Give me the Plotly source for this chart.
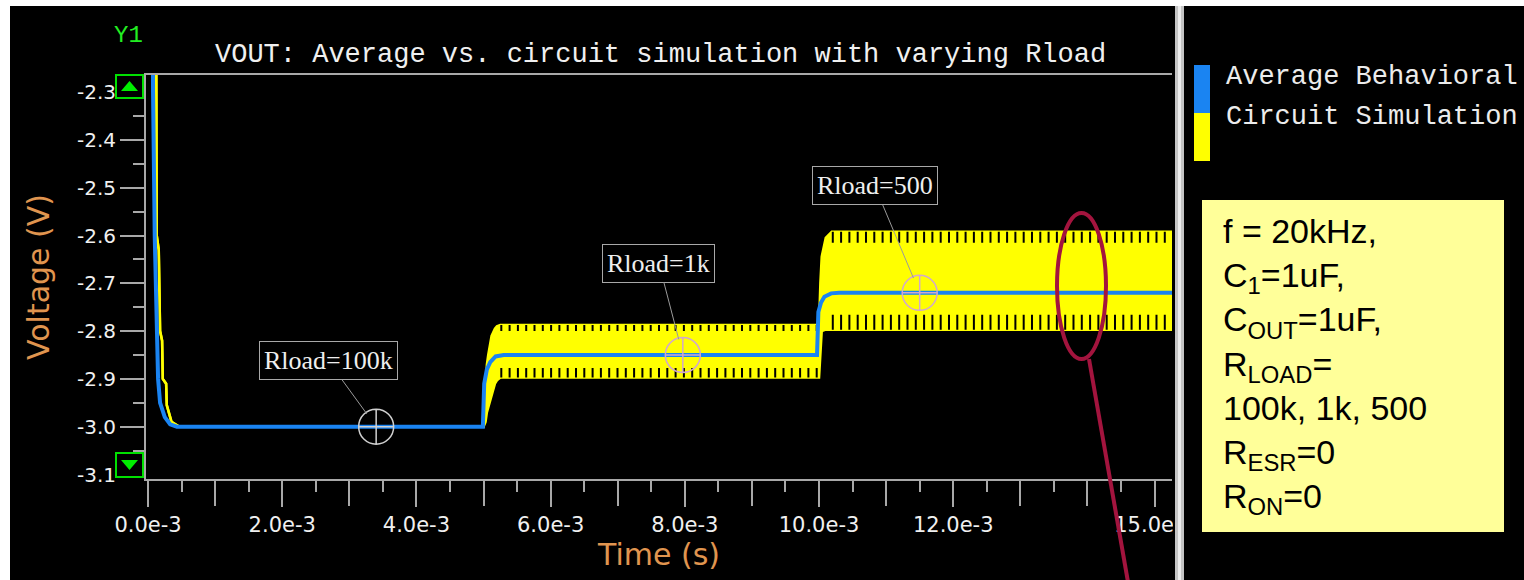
import plotly.graph_objects as go

# ---------------- data (time in ms, voltage in V) ----------------
avg_t_ms = [0.07, 0.075, 0.10, 0.13, 0.15, 0.18, 0.25, 0.33, 0.43,
            4.99, 5.00, 5.01, 5.05, 5.10, 5.18, 5.30,
            9.97, 9.98, 9.99, 10.03, 10.08, 10.18, 10.30, 15.26]
avg_v = [-2.10, -2.30, -2.60, -2.80, -2.90, -2.95, -2.98, -2.995, -3.00,
         -3.00, -2.95, -2.91, -2.88, -2.865, -2.853, -2.85,
         -2.85, -2.80, -2.76, -2.74, -2.728, -2.721, -2.72, -2.72]

sim_t_ms = [0.12, 0.13, 0.16, 0.18, 0.21, 0.22, 0.27, 0.28, 0.35, 0.47,
            5.00, 5.03, 5.05, 5.07, 5.12, 5.17, 5.20, 5.25,
            10.00, 10.02, 10.04, 10.10, 10.19, 15.26]
sim_hi = [-2.10, -2.60, -2.63, -2.80, -2.82, -2.90, -2.91, -2.955, -2.99, -3.00,
          -3.00, -2.90, -2.87, -2.85, -2.81, -2.795, -2.79, -2.787,
          -2.787, -2.70, -2.644, -2.605, -2.592, -2.592]
sim_lo = [-2.10, -2.60, -2.63, -2.80, -2.82, -2.90, -2.91, -2.955, -2.99, -3.00,
          -3.00, -2.99, -2.97, -2.96, -2.93, -2.91, -2.903, -2.897,
          -2.897, -2.85, -2.80, -2.797, -2.797, -2.797]

# ripple texture strips (per load step)
ripple_start_ms = [5.25, 10.19]
ripple_end_ms = [10.00, 15.26]
ripple_peak = [-2.787, -2.592]
ripple_body_top = [-2.800, -2.615]
ripple_body_bottom = [-2.877, -2.766]
ripple_trough = [-2.897, -2.797]

marker_t_ms = [3.40, 7.97, 11.50]
marker_v = [-3.00, -2.85, -2.72]
marker_labels = ["Rload=100k", "Rload=1k", "Rload=500"]

x_label_ms = [0, 2, 4, 6, 8, 10, 12, 15]
x_long_tick_ms = [1, 3, 5, 7, 9, 11, 13, 14]
x_minor_ms = [0.5, 1.5, 2.5, 3.5, 4.5, 5.5, 6.5, 7.5, 8.5, 9.5, 10.5, 11.5, 12.5, 13.5, 14.5]
y_ticks = [-3.1, -3.0, -2.9, -2.8, -2.7, -2.6, -2.5, -2.4, -2.3]
y_minor = [-3.05, -2.95, -2.85, -2.75, -2.65, -2.55, -2.45, -2.35]

series_names = ["Average Behavioral", "Circuit Simulation"]
info_lines = ["f = 20kHz,", "C<sub>1</sub>=1uF,", "C<sub>OUT</sub>=1uF,", "R<sub>LOAD</sub>=",
              "100k, 1k, 500", "R<sub>ESR</sub>=0", "R<sub>ON</sub>=0"]

# ---------------- styling / layout ----------------
FW, FH = 1524, 580
L, R_EDGE, T, B = 146, 1172, 75, 479
W, H = R_EDGE - L, B - T
X_RANGE = [-0.03e-3, 15.26e-3]
Y_RANGE = [-3.1094, -2.2642]
PX_PER_V = H / (Y_RANGE[1] - Y_RANGE[0])

BLUE = "#1a84f2"
YEL = "#ffff00"
AXC = "#a8a8a8"
ORANGE = "#e0954f"


def PX(x):
    return (x - L) / W


def PY(y):
    return (B - y) / H


def s(ms_list):
    return [v * 1e-3 for v in ms_list]


fig = go.Figure()

# circuit simulation band
fig.add_trace(go.Scatter(x=s(sim_t_ms), y=sim_hi, mode="lines",
                         line=dict(color=YEL, width=2.5), name=series_names[1],
                         showlegend=False, hoverinfo="skip"))
fig.add_trace(go.Scatter(x=s(sim_t_ms), y=sim_lo, mode="lines", fill="tonexty",
                         fillcolor=YEL, line=dict(color=YEL, width=2.5),
                         showlegend=False, hoverinfo="skip"))

# ripple comb texture at band edges
for i in range(len(ripple_start_ms)):
    xs = s([ripple_start_ms[i], ripple_end_ms[i]])
    for a, b in ((ripple_peak[i], ripple_body_top[i]),
                 (ripple_body_bottom[i], ripple_trough[i])):
        wpx = abs(a - b) * PX_PER_V
        yc = (a + b) / 2
        fig.add_trace(go.Scatter(x=xs, y=[yc, yc], mode="lines",
                                 line=dict(color="black", width=wpx, dash="2px,6.3px"),
                                 showlegend=False, hoverinfo="skip"))

# average behavioral
fig.add_trace(go.Scatter(x=s(avg_t_ms), y=avg_v, mode="lines",
                         line=dict(color=BLUE, width=4), name=series_names[0],
                         showlegend=False, hoverinfo="skip"))

# cursor markers
fig.add_trace(go.Scatter(x=s(marker_t_ms), y=marker_v, mode="markers",
                         marker=dict(symbol="circle-cross-open", size=35,
                                     color=["#d0d0d0", "#d2a8cc", "#d2a8cc"],
                                     line=dict(width=1.5)),
                         showlegend=False, hoverinfo="skip", cliponaxis=False))

# helper trace so the secondary tick axis is drawn
fig.add_trace(go.Scatter(x=[None], y=[None], xaxis="x2", mode="lines",
                         showlegend=False, hoverinfo="skip"))

fig.update_layout(
    width=FW, height=FH,
    margin=dict(l=L, r=FW - R_EDGE, t=T, b=FH - B),
    paper_bgcolor="black", plot_bgcolor="black",
    showlegend=False,
    xaxis=dict(range=X_RANGE, showgrid=False, zeroline=False,
               showline=True, linecolor=AXC, linewidth=2, mirror=True,
               tickmode="array", tickvals=s(x_label_ms),
               ticktext=[f"{v:.1f}e-3" for v in x_label_ms],
               ticks="outside", ticklen=26, tickwidth=2, tickcolor=AXC,
               tickfont=dict(family="DejaVu Sans", size=21, color="#f0f0f0"),
               title=dict(text="Time (s)", standoff=4,
                          font=dict(family="DejaVu Sans", size=30, color=ORANGE)),
               minor=dict(tickvals=s(x_minor_ms),
                          ticks="outside", ticklen=11, tickwidth=2, tickcolor=AXC)),
    xaxis2=dict(range=X_RANGE, overlaying="x", side="bottom", anchor="y",
                showgrid=False, zeroline=False, showline=False,
                tickmode="array", tickvals=s(x_long_tick_ms), showticklabels=False,
                ticks="outside", ticklen=26, tickwidth=2, tickcolor=AXC),
    yaxis=dict(range=Y_RANGE, showgrid=False, zeroline=False,
               showline=True, linecolor=AXC, linewidth=2,
               tickmode="array", tickvals=y_ticks,
               ticktext=[f"{v:.1f}" for v in y_ticks],
               ticks="outside", ticklen=24, tickwidth=2, tickcolor=AXC,
               tickfont=dict(family="DejaVu Sans", size=20, color="#f0f0f0"),
               title=dict(text="Voltage (V)", standoff=18,
                          font=dict(family="DejaVu Sans", size=30, color=ORANGE)),
               minor=dict(tickvals=y_minor, ticks="outside", ticklen=11,
                          tickwidth=2, tickcolor=AXC)),
)

shapes = []
# right panel cover, divider, white border
shapes.append(dict(type="rect", xref="paper", yref="paper", layer="above",
                   x0=PX(R_EDGE + 1), x1=PX(FW + 5), y0=PY(FH + 5), y1=PY(0),
                   fillcolor="black", line=dict(width=0)))
shapes.append(dict(type="rect", xref="paper", yref="paper", layer="above",
                   x0=PX(1175), x1=PX(1184), y0=PY(FH + 5), y1=PY(6),
                   fillcolor="#c4c4c4", line=dict(width=0)))
shapes.append(dict(type="rect", xref="paper", yref="paper", layer="above",
                   x0=PX(1178), x1=PX(1181), y0=PY(FH + 5), y1=PY(6),
                   fillcolor="#ececec", line=dict(width=0)))
shapes.append(dict(type="rect", xref="paper", yref="paper", layer="above",
                   x0=PX(-5), x1=PX(10), y0=PY(FH + 5), y1=PY(-5),
                   fillcolor="white", line=dict(width=0)))
shapes.append(dict(type="rect", xref="paper", yref="paper", layer="above",
                   x0=PX(-5), x1=PX(FW + 5), y0=PY(6), y1=PY(-5),
                   fillcolor="white", line=dict(width=0)))
# legend swatches
shapes.append(dict(type="rect", xref="paper", yref="paper", layer="above",
                   x0=PX(1194), x1=PX(1210), y0=PY(113), y1=PY(65),
                   fillcolor=BLUE, line=dict(width=0)))
shapes.append(dict(type="rect", xref="paper", yref="paper", layer="above",
                   x0=PX(1194), x1=PX(1210), y0=PY(161), y1=PY(113),
                   fillcolor=YEL, line=dict(width=0)))
# info box
shapes.append(dict(type="rect", xref="paper", yref="paper", layer="above",
                   x0=PX(1202), x1=PX(1504), y0=PY(532), y1=PY(200),
                   fillcolor="#ffff99", line=dict(width=0)))
# green scroll boxes
for y0, y1, tri in ((75, 98, "up"), (453, 477, "down")):
    shapes.append(dict(type="rect", xref="paper", yref="paper", layer="above",
                       x0=PX(116), x1=PX(143), y0=PY(y1), y1=PY(y0),
                       fillcolor="black", line=dict(color="#00e000", width=2)))
    if tri == "up":
        pts = [(121, 91), (138, 91), (129.5, 81)]
    else:
        pts = [(121, 460), (138, 460), (129.5, 470)]
    path = "M {} {} L {} {} L {} {} Z".format(
        PX(pts[0][0]), PY(pts[0][1]), PX(pts[1][0]), PY(pts[1][1]),
        PX(pts[2][0]), PY(pts[2][1]))
    shapes.append(dict(type="path", xref="paper", yref="paper", layer="above",
                       path=path, fillcolor="#00ee00", line=dict(width=0)))
# red highlight ellipse and pointer
shapes.append(dict(type="circle", xref="paper", yref="paper", layer="above",
                   x0=PX(1057), x1=PX(1106), y0=PY(359), y1=PY(213),
                   line=dict(color="#a3143e", width=4)))
shapes.append(dict(type="line", xref="paper", yref="paper", layer="above",
                   x0=PX(1089), y0=PY(359), x1=PX(1128), y1=PY(FH + 2),
                   line=dict(color="#a3143e", width=4)))

annotations = []
annotations.append(dict(xref="paper", yref="paper", x=PX(660), y=PY(55),
                        text="VOUT: Average vs. circuit simulation with varying Rload",
                        showarrow=False, xanchor="center", yanchor="middle",
                        font=dict(family="Liberation Mono", size=27, color="#f0f0f0")))
annotations.append(dict(xref="paper", yref="paper", x=PX(128), y=PY(36),
                        text="Y1", showarrow=False, xanchor="center", yanchor="middle",
                        font=dict(family="Liberation Mono", size=24, color="#22ee22")))
for name, yc in zip(series_names, (77, 117)):
    annotations.append(dict(xref="paper", yref="paper", x=PX(1224), y=PY(yc),
                            text=name, showarrow=False, xanchor="left", yanchor="middle",
                            font=dict(family="Liberation Mono", size=27, color="#ececec")))
annotations.append(dict(xref="paper", yref="paper", x=PX(1221), y=PY(366),
                        text="<br>".join(info_lines), showarrow=False,
                        xanchor="left", yanchor="middle", align="left",
                        font=dict(family="Liberation Sans", size=34, color="black")))
label_offsets = [(-48, -66), (-24, -92), (-45, -107)]
for t, v, lab, (ax, ay) in zip(marker_t_ms, marker_v, marker_labels, label_offsets):
    annotations.append(dict(x=t * 1e-3, y=v, xref="x", yref="y", text=lab,
                            showarrow=True, arrowhead=0, arrowwidth=1,
                            arrowcolor="#9a9a9a", ax=ax, ay=ay, standoff=16,
                            bordercolor="#a8a8a8", borderwidth=1, borderpad=4,
                            bgcolor="black",
                            font=dict(family="Liberation Serif", size=26, color="#eeeeee")))

fig.update_layout(shapes=shapes, annotations=annotations)
fig.write_html("out.html",
               config={"displayModeBar": False, "staticPlot": True},
               post_script="document.body.style.margin='0px';document.body.style.overflow='hidden';")
